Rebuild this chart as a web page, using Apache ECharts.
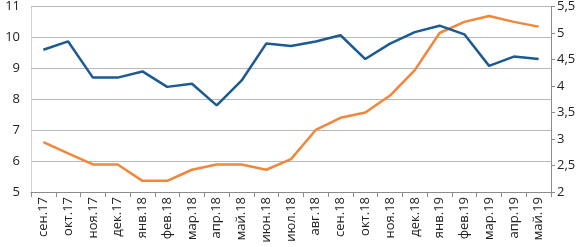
<!DOCTYPE html>
<html>
<head>
<meta charset="utf-8">
<script src="https://cdn.jsdelivr.net/npm/echarts@6/dist/echarts.min.js"></script>
<style>
  html, body { margin: 0; padding: 0; background: #fff; }
  #main { width: 583px; height: 247px; }
</style>
</head>
<body>
<div id="main"></div>
<script>
const months = ['сен.17', 'окт.17', 'ноя.17', 'дек.17', 'янв.18', 'фев.18', 'мар.18', 'апр.18', 'май.18', 'июн.18', 'июл.18',
  'авг.18', 'сен.18', 'окт.18', 'ноя.18', 'дек.18', 'янв.19', 'фев.19', 'мар.19', 'апр.19', 'май.19']
// левая ось
const blueSeries = [9.6, 9.87, 8.7, 8.7, 8.9, 8.4, 8.5, 7.8, 8.6, 9.8, 9.72,
  9.87, 10.07, 9.3, 9.8, 10.17, 10.38, 10.1, 9.08, 9.38, 9.3]
// правая ось
const orangeSeries = [2.94, 2.73, 2.52, 2.52, 2.21, 2.21, 2.42, 2.52, 2.52, 2.42, 2.62,
  3.17, 3.4, 3.5, 3.82, 4.3, 5.0, 5.21, 5.32, 5.21, 5.12]

const leftTicks = {min: 5, max: 11, step: 1}
const rightTicks = {min: 2, max: 5.5, step: 0.5}

const font = 'Open Sans'
const chart = echarts.init(document.getElementById('main'))

chart.setOption({
  animation: false,
  grid: {left: 31, right: 32, top: 6, bottom: 55},
  xAxis: {
    type: 'category',
    data: months,
    boundaryGap: true,
    axisLine: {lineStyle: {color: '#8c8c8c', width: 1}},
    axisTick: {show: true, interval: 0, length: 5, lineStyle: {color: '#8c8c8c'}},
    axisLabel: {interval: 0, rotate: 90, fontFamily: font, fontSize: 13, color: '#222', margin: 5}
  },
  yAxis: [{
    type: 'value',
    min: leftTicks.min,
    max: leftTicks.max,
    interval: leftTicks.step,
    axisLine: {show: true, lineStyle: {color: '#c8c8c8', type: 'dotted'}},
    axisTick: {show: false},
    axisLabel: {fontFamily: font, fontSize: 13, color: '#222', margin: 11},
    splitLine: {lineStyle: {color: '#b8b8b8', width: 1}}
  }, {
    type: 'value',
    min: rightTicks.min,
    max: rightTicks.max,
    interval: rightTicks.step,
    position: 'right',
    axisLine: {show: true, lineStyle: {color: '#8c8c8c'}},
    axisTick: {show: true, length: 4, lineStyle: {color: '#8c8c8c'}},
    axisLabel: {fontFamily: font, fontSize: 13, color: '#222', margin: 6,
      formatter: v => String(v).replace('.', ',')},
    splitLine: {show: false}
  }],
  series: [{
    type: 'line',
    data: blueSeries,
    yAxisIndex: 0,
    symbol: 'none',
    lineStyle: {color: '#1c5a92', width: 2.5},
    z: 3
  }, {
    type: 'line',
    data: orangeSeries,
    yAxisIndex: 1,
    symbol: 'none',
    lineStyle: {color: '#f0873a', width: 2.5},
    z: 2
  }]
})
</script>
</body>
</html>
